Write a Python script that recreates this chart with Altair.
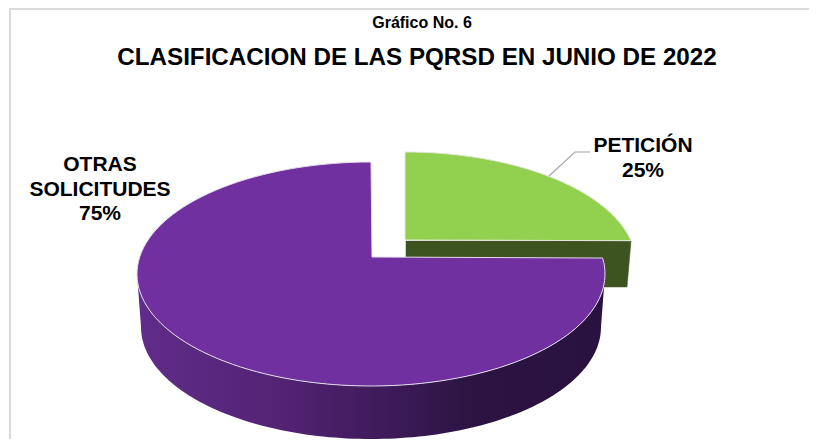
import math
import altair as alt

# ---- data ----
categories = ["OTRAS SOLICITUDES", "PETICIÓN"]
shares = [75, 25]
label_lines = {"OTRAS SOLICITUDES": ["OTRAS", "SOLICITUDES"], "PETICIÓN": ["PETICIÓN"]}
title_text = "CLASIFICACION DE LAS PQRSD EN JUNIO DE 2022"
caption_text = "Gráfico No. 6"

# ---- geometry of the tilted pie, in pixels of the view ----
W, H = 801, 431
OX, OY = 8, 8          # page margin


def ell(cx, cy, rx, ry, deg):
    a = math.radians(deg)
    return [cx + rx * math.sin(a) - OX, cy - ry * math.cos(a) - OY]


def arc(cx, cy, rx, ry, start, end, n=120):
    return [ell(cx, cy, rx, ry, start + (end - start) * i / n) for i in range(n + 1)]


def poly(points):
    return {"type": "Feature", "properties": {},
            "geometry": {"type": "Polygon", "coordinates": [points + [points[0]]]}}


def pt(x, y):
    return [x - OX, y - OY]


sweep_small = 360 * shares[1] / sum(shares)   # 90 degrees
tilt = 8.2                                    # perspective shift of the cut edge

# big slice
big_top = (371, 274, 234, 112)
big_bot = (371, 327, 230, 112)
big_arc = arc(*big_top, sweep_small - tilt, 360)
big_face = poly(big_arc + [pt(372, 257)])
big_side = poly(arc(*big_top, 90, 270) + arc(*big_bot, 270, 90))

# small, pulled-out slice
small_top = (405, 264, 231, 112)
small_arc = arc(*small_top, 0, sweep_small - 12)
small_face = poly([pt(405, 240)] + small_arc)
small_side = poly([pt(406, 241), pt(631, 241), pt(627, 287), pt(406, 287)])

side_gradient = alt.LinearGradient(
    gradient="linear", x1=0, y1=0, x2=1, y2=0,
    stops=[
        alt.GradientStop(offset=0.0, color="#612c8a"),
        alt.GradientStop(offset=0.3, color="#532374"),
        alt.GradientStop(offset=0.55, color="#3c1a58"),
        alt.GradientStop(offset=0.72, color="#2c1342"),
        alt.GradientStop(offset=1.0, color="#2a1240"),
    ],
)

projection = alt.Projection(type="identity", scale=1, translate=[0, 0])


def shape(feature, **kw):
    return alt.Chart(alt.Data(values=[feature])).mark_geoshape(**kw).project(**projection.to_dict())


leader = {"type": "Feature", "properties": {},
          "geometry": {"type": "LineString",
                       "coordinates": [pt(549, 176), pt(575, 152), pt(590, 152)]}}

frame = {"type": "Feature", "properties": {},
         "geometry": {"type": "LineString",
                      "coordinates": [pt(10, 460), pt(10, 9), pt(830, 9)]}}

layers = [
    shape(frame, fill=None, filled=False, stroke="#d9d9d9", strokeWidth=2),
    shape(small_side, fill="#3d5320", stroke="#3d5320", strokeWidth=0.5),
    shape(small_face, fill="#92d050", stroke="#e4e8dc", strokeWidth=1),
    shape(big_side, fill=side_gradient, stroke=None, strokeWidth=0),
    shape(big_face, fill="#7030a0", stroke="#e3dcea", strokeWidth=1),
    shape(leader, fill=None, filled=False, stroke="#a6a6a6", strokeWidth=1.2),
]

# ---- texts ----
rows = [
    {"t": caption_text, "x": 422 - OX, "y": 28 - OY, "s": 16},
    {"t": title_text, "x": 417 - OX, "y": 65 - OY, "s": 24.2},
]
for line, y in zip(label_lines["PETICIÓN"] + [f"{shares[1]}%"], [152, 177]):
    rows.append({"t": line, "x": 643 - OX, "y": y - OY, "s": 21})
for line, y in zip(label_lines["OTRAS SOLICITUDES"] + [f"{shares[0]}%"], [171, 196, 220]):
    rows.append({"t": line, "x": 100 - OX, "y": y - OY, "s": 21})

text = alt.Chart(alt.Data(values=rows)).mark_text(
    font="Liberation Sans", fontWeight="bold", color="#000000", align="center", baseline="alphabetic"
).encode(
    x=alt.X("x:Q", scale=None),
    y=alt.Y("y:Q", scale=None),
    text="t:N",
    size=alt.Size("s:Q", scale=None, legend=None),
)

chart = alt.layer(*layers, text).properties(
    width=W, height=H, padding=0, autosize=alt.AutoSizeParams(type="none"),
    background="white",
).configure_view(stroke=None)

chart.save("out.html", embed_options={"renderer": "svg", "actions": False})
